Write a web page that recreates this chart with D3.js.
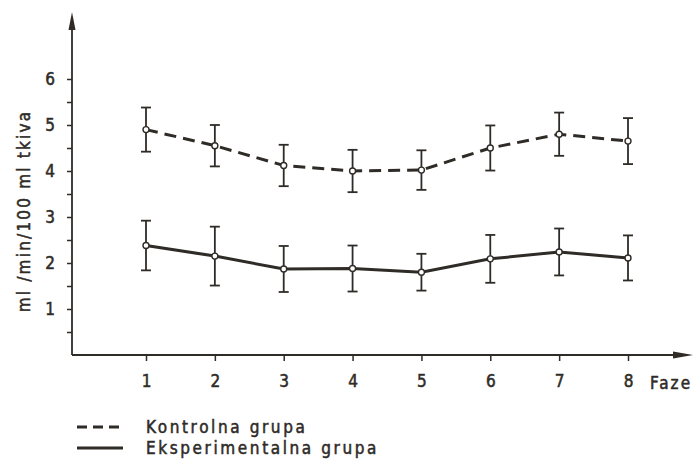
<!DOCTYPE html>
<html>
<head>
<meta charset="utf-8">
<script src="https://cdn.jsdelivr.net/npm/d3@7"></script>
<style>
  body { margin: 0; background: #fff; }
  svg text { font-family: "DejaVu Sans Condensed", "DejaVu Sans", sans-serif; fill: #2f2b27; stroke: #2f2b27; stroke-width: 0.5px; }
</style>
</head>
<body>
<div id="chart"></div>
<script>
// phases on the x axis
var phases = [1, 2, 3, 4, 5, 6, 7, 8];
// Kontrolna grupa (dashed)
var kontrolMean = [4.9, 4.55, 4.12, 4.0, 4.02, 4.5, 4.8, 4.65];
var kontrolErr  = [0.48, 0.45, 0.45, 0.46, 0.43, 0.49, 0.47, 0.5];
// Eksperimentalna grupa (solid)
var eksperMean = [2.38, 2.15, 1.87, 1.88, 1.8, 2.09, 2.24, 2.11];
var eksperErr  = [0.54, 0.64, 0.5, 0.5, 0.4, 0.52, 0.51, 0.49];
var yTickLabels = [1, 2, 3, 4, 5, 6];
var yMinorTicks = [0.5, 1, 1.5, 2, 2.5, 3, 3.5, 4, 4.5, 5, 5.5, 6];

var width = 698, height = 459;
var ink = "#2f2b27";

var svg = d3.select("#chart").append("svg")
    .attr("width", width)
    .attr("height", height);

var x = d3.scaleLinear().domain([1, 8]).range([146, 628]);
var y = d3.scaleLinear().domain([0, 6]).range([355, 79]);
var x0 = 72;

// axes lines with arrows
svg.append("line")
    .attr("x1", x0).attr("y1", y(0))
    .attr("x2", x0).attr("y2", 24)
    .style("stroke", ink).style("stroke-width", 1.8);
svg.append("path")
    .attr("d", "M" + x0 + ",12L" + (x0 - 3.5) + ",30L" + (x0 + 3.5) + ",30Z")
    .style("fill", ink);

svg.append("line")
    .attr("x1", x0).attr("y1", y(0))
    .attr("x2", 680).attr("y2", y(0))
    .style("stroke", ink).style("stroke-width", 1.8);
svg.append("path")
    .attr("d", "M693," + y(0) + "L673," + (y(0) - 3.5) + "L673," + (y(0) + 3.5) + "Z")
    .style("fill", ink);

// y ticks
var yAxis = d3.axisLeft(y)
    .tickValues(yMinorTicks)
    .tickSize(5)
    .tickPadding(12)
    .tickFormat(function(d) { return yTickLabels.indexOf(d) >= 0 ? d : ""; });
var gy = svg.append("g")
    .attr("transform", "translate(" + x0 + ",0)")
    .call(yAxis);
gy.select(".domain").remove();
gy.selectAll("line").style("stroke", ink).style("stroke-width", 1.5);
gy.selectAll("text").style("font-size", "17px").style("fill", ink);

// x ticks
var xAxis = d3.axisBottom(x)
    .tickValues(phases)
    .tickSize(6)
    .tickPadding(14)
    .tickFormat(d3.format("d"));
var gx = svg.append("g")
    .attr("transform", "translate(0," + y(0) + ")")
    .call(xAxis);
gx.select(".domain").remove();
gx.selectAll("line").style("stroke", ink).style("stroke-width", 1.5);
gx.selectAll("text").style("font-size", "17px").style("fill", ink);

svg.append("text")
    .attr("x", 650).attr("y", 389)
    .style("font-size", "17px")
    .style("letter-spacing", "2px")
    .text("Faze");

// y label
svg.append("text")
    .attr("transform", "translate(30,211) rotate(-90)")
    .attr("text-anchor", "middle")
    .style("font-size", "17px")
    .style("letter-spacing", "2.2px")
    .text("ml /min/100 ml  tkiva");

function drawSeries(mean, err, dash) {
    var data = phases.map(function(p, i) { return { p: p, m: mean[i], e: err[i] }; });
    var g = svg.append("g");

    var bars = g.selectAll("g.bar").data(data).enter().append("g").attr("class", "bar");
    bars.append("line")
        .attr("x1", function(d) { return x(d.p); })
        .attr("x2", function(d) { return x(d.p); })
        .attr("y1", function(d) { return y(d.m + d.e); })
        .attr("y2", function(d) { return y(d.m - d.e); })
        .style("stroke", ink).style("stroke-width", 1.8);
    [1, -1].forEach(function(s) {
        bars.append("line")
            .attr("x1", function(d) { return x(d.p) - 5; })
            .attr("x2", function(d) { return x(d.p) + 5; })
            .attr("y1", function(d) { return y(d.m + s * d.e); })
            .attr("y2", function(d) { return y(d.m + s * d.e); })
            .style("stroke", ink).style("stroke-width", 1.8);
    });

    var line = d3.line()
        .x(function(d) { return x(d.p); })
        .y(function(d) { return y(d.m); });
    g.append("path")
        .datum(data)
        .attr("d", line)
        .style("fill", "none")
        .style("stroke", ink)
        .style("stroke-width", 3)
        .style("stroke-dasharray", dash ? "12,7" : null);

    g.selectAll("circle").data(data).enter().append("circle")
        .attr("cx", function(d) { return x(d.p); })
        .attr("cy", function(d) { return y(d.m); })
        .attr("r", 3)
        .style("fill", "#fff")
        .style("stroke", ink)
        .style("stroke-width", 1.4);
}

drawSeries(kontrolMean, kontrolErr, true);
drawSeries(eksperMean, eksperErr, false);

// legend
var legend = [
    { name: "Kontrolna grupa", dash: true, y: 427 },
    { name: "Eksperimentalna grupa", dash: false, y: 448 }
];
legend.forEach(function(l) {
    svg.append("line")
        .attr("x1", 77).attr("x2", 123)
        .attr("y1", l.y).attr("y2", l.y)
        .style("stroke", ink).style("stroke-width", 3)
        .style("stroke-dasharray", l.dash ? "10,6" : null);
    svg.append("text")
        .attr("x", 146).attr("y", l.y + 6)
        .style("font-size", "17px")
        .style("letter-spacing", "2.6px")
        .text(l.name);
});
</script>
</body>
</html>
